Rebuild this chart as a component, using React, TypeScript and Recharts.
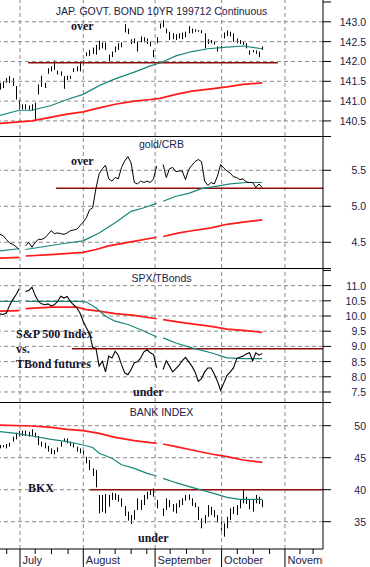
import React from 'react';
import { ComposedChart, Line, Bar, XAxis, YAxis, ReferenceLine } from 'recharts';

// trading days 0..82 (late June to mid October 1997), null = no quote that day
const jgbLow = [141.29, 141.33, 141.46, 141.46, 141.38, 141.04, 140.79, 140.79, 140.79, 140.78, 140.75, 140.5, 141.17, 141.36, 141.33, 141.69, 141.75, 141.79, 141.67, 141.64, 141.31, 141.53, 141.56, 141.73, 141.75, 141.75, 141.89, 142.13, 142.14, 142.19, 142.17, 142.29, 142.33, 142.29, 141.96, 142.11, 142.23, 142.29, 142.36, 142.73, 142.69, 142.44, 142.46, 142.25, 142.48, 142.48, 142.44, 142.38, 142.11, 142.46, 142.83, 142.86, 142.71, 142.54, 142.56, 142.54, 142.58, 142.56, 142.61, 142.71, 142.71, 142.75, 142.75, 142.71, 142.33, 142.44, 142.46, 142.42, 142.25, 142.28, 142.58, 142.64, 142.63, 142.5, 142.46, 142.44, 142.42, 142.33, 142.17, 142.23, 142.19, 142.11, 142.29];
const jgbHigh = [141.46, 141.5, 141.58, 141.63, 141.58, 141.38, 141.04, 140.92, 140.92, 140.89, 140.92, 140.96, 141.42, 141.64, 141.46, 141.83, 141.88, 142.03, 141.77, 141.75, 141.63, 141.64, 141.64, 141.83, 141.88, 142.0, 142.03, 142.23, 142.29, 142.35, 142.42, 142.52, 142.48, 142.48, 142.17, 142.25, 142.38, 142.46, 142.48, 142.94, 142.83, 142.56, 142.58, 142.5, 142.63, 142.61, 142.58, 142.5, 142.29, 142.61, 142.96, 143.04, 142.83, 142.75, 142.71, 142.69, 142.71, 142.73, 142.75, 142.89, 142.83, 142.81, 142.79, 142.79, 142.71, 142.56, 142.54, 142.5, 142.38, 142.39, 142.73, 142.78, 142.75, 142.71, 142.58, 142.54, 142.5, 142.46, 142.28, 142.29, 142.28, 142.25, 142.38];
const goldCrb = [4.61, 4.59, 4.54, 4.49, 4.47, 4.44, 4.4, null, 4.45, 4.5, 4.43, 4.5, 4.54, 4.54, 4.56, 4.61, 4.66, 4.62, 4.63, 4.62, 4.61, 4.63, 4.66, 4.67, 4.68, 4.73, 4.78, 4.84, 4.95, 4.98, 5.25, 5.45, 5.52, 5.57, 5.38, 5.35, 5.4, 5.38, 5.54, 5.63, 5.69, 5.6, 5.33, 5.31, 5.35, 5.33, 5.35, 5.33, 5.38, 5.56, null, 5.58, 5.4, 5.52, 5.54, 5.48, 5.49, 5.49, 5.37, 5.51, 5.57, 5.62, 5.65, 5.62, 5.35, 5.29, 5.33, 5.31, 5.42, 5.58, 5.53, 5.49, 5.46, 5.41, 5.4, 5.37, 5.38, 5.34, 5.33, 5.33, 5.26, 5.31, 5.26];
const spxTBonds = [10.07, 10.05, 10.1, 10.35, 10.54, 10.7, 10.9, null, 10.81, 10.84, 10.95, 10.68, 10.48, 10.4, 10.37, 10.4, 10.33, 10.37, 10.48, 10.65, 10.59, 10.64, 10.48, 10.37, 10.27, 10.1, 9.83, 9.61, 9.41, 8.97, 8.93, 8.35, 8.51, 8.16, 8.68, 8.62, 8.84, 8.71, 8.4, 8.13, 8.07, 8.24, 8.46, 8.49, 8.62, 8.82, 8.89, 8.79, 8.73, 8.29, null, 8.24, 8.53, 8.35, 8.16, 8.27, 8.38, 8.53, 8.64, 8.49, 8.35, 8.16, 7.85, 7.94, 8.16, 8.29, 8.29, 8.09, 7.85, 7.55, 7.8, 8.05, 8.16, 8.29, 8.6, 8.64, 8.68, 8.75, 8.79, 8.53, 8.79, 8.71, 8.77];
const bkxLow = [46.46, 46.61, 46.46, 46.72, 47.5, 47.86, 48.28, 48.39, 48.39, 48.28, 48.39, 48.18, 46.98, 46.72, 46.46, 45.94, 45.57, 45.52, 45.89, 46.72, 47.5, 47.24, 46.82, 46.61, 45.94, 45.68, 45.42, 44.11, 43.07, 42.14, 40.36, 36.3, 36.56, 36.3, 37.34, 38.39, 38.39, 38.13, 37.34, 35.89, 35.16, 34.64, 35.31, 36.82, 36.82, 37.6, 38.49, 39.17, 38.91, 37.08, null, 35.89, 36.82, 37.24, 36.56, 36.3, 37.24, 37.6, 38.28, 38.39, 37.45, 37.24, 35.26, 33.96, 34.74, 35.78, 36.04, 35.68, 34.84, 33.59, 32.66, 33.96, 35.26, 36.2, 36.04, 37.08, 37.86, 37.76, 36.93, 36.56, 37.86, 37.76, 37.24];
const bkxHigh = [46.98, 46.98, 47.14, 47.34, 48.28, 48.91, 49.17, 49.22, 49.22, 49.06, 49.43, 48.91, 48.39, 47.5, 47.34, 46.82, 46.46, 46.2, 46.61, 47.5, 48.02, 48.02, 47.5, 47.24, 46.72, 46.46, 46.2, 45.16, 44.64, 43.33, 43.07, 39.17, 39.17, 39.32, 39.17, 39.53, 39.43, 39.17, 38.65, 37.45, 36.56, 36.04, 36.82, 38.65, 38.39, 39.17, 39.69, 40.05, 40.21, 38.39, null, 37.08, 38.65, 38.39, 37.76, 37.86, 38.39, 38.65, 39.17, 39.27, 38.65, 37.97, 37.34, 35.52, 36.04, 37.6, 37.34, 36.82, 36.04, 35.78, 34.74, 35.78, 37.08, 37.34, 37.6, 38.49, 40.05, 38.91, 38.49, 38.39, 39.17, 38.91, 38.39];

// moving averages, [day, value]; a null value breaks the line
const jgbAvgShort = [[0, 140.64], [6, 140.77], [10, 140.77], [16, 140.89], [21, 141.04], [26, 141.17], [31, 141.39], [36, 141.56], [42, 141.73], [47, 141.89], [50, 141.96], [52, 142.03], [55, 142.14], [60, 142.25], [65, 142.32], [71, 142.36], [76, 142.39], [82, 142.32]];
const jgbAvgLong = [[0, 140.44], [10, 140.5], [21, 140.67], [26, 140.73], [31, 140.83], [36, 140.92], [42, 141.0], [47, 141.04], [50, 141.07], [55, 141.17], [60, 141.25], [66, 141.31], [71, 141.36], [76, 141.42], [82, 141.46]];
const goldAvgShort = [[0, 4.38], [6, 4.41], [7, null], [8, 4.4], [13, 4.435], [21, 4.49], [26, 4.52], [28, 4.565], [31, 4.63], [36, 4.77], [41, 4.93], [45, 4.98], [49, 5.04], [50, null], [51, 5.07], [55, 5.14], [59, 5.18], [63, 5.245], [68, 5.28], [72, 5.31], [77, 5.33], [82, 5.33]];
const goldAvgLong = [[0, 4.28], [6, 4.29], [7, null], [8, 4.31], [16, 4.33], [26, 4.36], [30, 4.4], [34, 4.45], [40, 4.5], [49, 4.57], [50, null], [51, 4.58], [56, 4.63], [60, 4.66], [66, 4.7], [71, 4.75], [76, 4.78], [82, 4.81]];
const spxAvgShort = [[0, 10.48], [6, 10.48], [7, null], [8, 10.48], [25, 10.48], [27, 10.46], [30, 10.27], [33, 9.99], [36, 9.83], [40, 9.72], [44, 9.55], [49, 9.31], [50, null], [51, 9.28], [55, 9.11], [60, 8.95], [66, 8.79], [71, 8.62], [76, 8.6], [82, 8.6]];
const spxAvgLong = [[0, 10.16], [6, 10.18], [7, null], [8, 10.24], [16, 10.29], [24, 10.29], [27, 10.21], [31, 10.16], [36, 10.08], [42, 10.02], [49, 9.91], [50, null], [51, 9.88], [56, 9.8], [60, 9.74], [66, 9.66], [71, 9.57], [76, 9.53], [82, 9.46]];
const bkxAvgShort = [[0, 49.06], [5, 48.8], [10, 48.39], [16, 47.86], [21, 47.5], [26, 46.98], [29, 46.6], [31, 45.7], [35, 44.9], [38, 43.9], [42, 43.33], [46, 42.55], [49, 42.14], [50, null], [51, 41.77], [55, 41.09], [60, 40.36], [66, 39.53], [71, 38.8], [75, 38.49], [82, 38.49]];
const bkxAvgLong = [[0, 50.1], [10, 49.95], [16, 49.74], [21, 49.43], [26, 49.22], [31, 48.8], [36, 48.18], [42, 47.66], [47, 47.34], [49, 47.24], [50, null], [51, 47.14], [55, 46.72], [60, 46.2], [66, 45.57], [71, 45.16], [76, 44.64], [82, 44.27]];

const monthTicks = [6.25, 26.05, 48.5, 69.3, 89.1];
const monthNames = ['July', 'August', 'September', 'October', 'November'];
const weekTicks = [2.1, 11, 16.1, 21.3, 31.2, 36, 41, 45.9, 53.2, 58.3, 63.5, 74.2, 79.2, 84.3, 93.8, 97.9];

const PLOT_W = 323;
const X_DOMAIN = [0, 101];
const INK = '#1a1a48';
const TEAL = '#17867a';
const RED = '#ff1a1a';
const MAROON = '#900c0c';
const GRID = '#8a8a8a';
const SANS = "'Liberation Sans', Arial, sans-serif";
const SERIF = "'Liberation Serif', 'Times New Roman', serif";

const rows = jgbLow.map((_, i) => ({
  i,
  jgb: [jgbLow[i], jgbHigh[i]],
  gold: goldCrb[i],
  spx: spxTBonds[i],
  bkx: bkxLow[i] == null ? null : [bkxLow[i], bkxHigh[i]],
}));

// split [day, value] list at null values into separate runs
const runs = (arr: any[]) => {
  const out: any[][] = [[]];
  arr.forEach(([i, v]) => {
    if (v == null) out.push([]);
    else out[out.length - 1].push({ i, v });
  });
  return out.filter((r) => r.length > 1);
};

const HLBar = (p: any) => {
  if (p.height == null || isNaN(p.height)) return null;
  const cx = Math.round(p.x + p.width / 2) + 0.5;
  return <line x1={cx} x2={cx} y1={p.y} y2={p.y + p.height} stroke="#000" strokeWidth={1} />;
};

const makeYTick = (labels: number[], digits: number) => (props: any) => {
  const { y, payload } = props;
  const v = payload.value;
  const show = labels.some((l) => Math.abs(l - v) < 1e-6);
  return (
    <g>
      <line x1={PLOT_W} x2={PLOT_W + 8} y1={y} y2={y} stroke="#000" />
      {show && (
        <text x={366} y={y + 4} textAnchor="end" fontSize={10.5} fill={INK} fontFamily={SANS}>
          {v.toFixed(digits)}
        </text>
      )}
    </g>
  );
};

const BOTTOM_PLOT_H = 147;

const renderXTick = (props: any) => {
  const { x, payload } = props;
  const m = monthTicks.indexOf(payload.value);
  if (m < 0) {
    return <line x1={x} x2={x} y1={BOTTOM_PLOT_H} y2={BOTTOM_PLOT_H + 5} stroke="#000" />;
  }
  return (
    <g>
      <defs>
        <clipPath id={`xlab${m}`}>
          <rect x={0} y={BOTTOM_PLOT_H} width={PLOT_W} height={20} />
        </clipPath>
      </defs>
      <line x1={x} x2={x} y1={BOTTOM_PLOT_H} y2={BOTTOM_PLOT_H + 18} stroke="#000" />
      <text x={x + 2.5} y={BOTTOM_PLOT_H + 15} fontSize={11} fill={INK} fontFamily={SANS} clipPath={`url(#xlab${m})`}>
        {monthNames[m]}
      </text>
    </g>
  );
};

const avgLines = (key: string, data: any[], color: string, width: number) =>
  runs(data).map((run, k) => (
    <Line key={key + k} data={run} dataKey="v" stroke={color} strokeWidth={width} dot={false} activeDot={false} isAnimationActive={false} />
  ));

// dashed guide lines at the labelled values and month starts
const gridLines = (labels: number[]) => [
  ...labels.map((v) => (
    <ReferenceLine key={'h' + v} y={v} stroke={GRID} strokeWidth={1} strokeDasharray="4 3" ifOverflow="extendDomain" />
  )),
  ...monthTicks.map((m) => (
    <ReferenceLine key={'v' + m} x={m} stroke={GRID} strokeWidth={1} strokeDasharray="4 3" ifOverflow="extendDomain" />
  )),
];

function Panel(props: any) {
  const { height, domain, ticks, labels, digits, last, children } = props;
  return (
    <ComposedChart width={370} height={height} data={rows} margin={{ top: 0, right: 0, bottom: 0, left: 0 }}>
      <XAxis
        dataKey="i"
        type="number"
        domain={X_DOMAIN}
        allowDataOverflow
        ticks={last ? [...monthTicks, ...weekTicks].sort((a, b) => a - b) : []}
        interval={0}
        height={last ? 18 : 0}
        axisLine={{ stroke: '#000' }}
        tickLine={false}
        tick={last ? renderXTick : false}
      />
      <YAxis
        orientation="right"
        type="number"
        width={47}
        domain={domain}
        allowDataOverflow
        ticks={ticks}
        interval={0}
        axisLine={{ stroke: '#000' }}
        tickLine={false}
        tick={makeYTick(labels, digits)}
      />
      {gridLines(labels)}
      {children}
    </ComposedChart>
  );
}

const jgbDomain = [140.12, 143.55];
const goldDomain = [4.143, 5.976];
const spxDomain = [7.17, 11.58];
const bkxDomain = [30.73, 53.7];

export default function App() {
  return (
    <div style={{ position: 'absolute', left: 0, top: 0, width: 370, height: 567, background: '#fff', overflow: 'hidden' }}>
      <Panel height={136} domain={jgbDomain} ticks={[140.5, 141, 141.5, 142, 142.5, 143, 143.5]} labels={[140.5, 141, 141.5, 142, 142.5, 143]} digits={1}>
        <ReferenceLine segment={[{ x: 8.8, y: 141.97 }, { x: 86.9, y: 141.97 }]} stroke={MAROON} strokeWidth={1.5} />
        {avgLines('jl', jgbAvgLong, RED, 1.7)}
        {avgLines('js', jgbAvgShort, TEAL, 1.2)}
        <Bar dataKey="jgb" barSize={1} shape={HLBar} isAnimationActive={false} />
      </Panel>
      <Panel height={132} domain={goldDomain} ticks={[4.5, 5, 5.5]} labels={[4.5, 5, 5.5]} digits={1}>
        <ReferenceLine segment={[{ x: 17.5, y: 5.25 }, { x: 101, y: 5.25 }]} stroke={MAROON} strokeWidth={1.5} />
        {avgLines('gl', goldAvgLong, RED, 1.7)}
        {avgLines('gs', goldAvgShort, TEAL, 1.2)}
        <Line dataKey="gold" stroke="#000" strokeWidth={1} dot={false} activeDot={false} isAnimationActive={false} />
      </Panel>
      <Panel height={134} domain={spxDomain} ticks={[7.5, 8, 8.5, 9, 9.5, 10, 10.5, 11, 11.5]} labels={[7.5, 8, 8.5, 9, 9.5, 10, 10.5, 11]} digits={1}>
        <ReferenceLine segment={[{ x: 22.5, y: 8.92 }, { x: 101, y: 8.92 }]} stroke={MAROON} strokeWidth={1.5} />
        {avgLines('sl', spxAvgLong, RED, 1.7)}
        {avgLines('ss', spxAvgShort, TEAL, 1.2)}
        <Line dataKey="spx" stroke="#000" strokeWidth={1.1} dot={false} activeDot={false} isAnimationActive={false} />
      </Panel>
      <Panel height={165} last domain={bkxDomain} ticks={[35, 40, 45, 50]} labels={[35, 40, 45, 50]} digits={0}>
        <ReferenceLine segment={[{ x: 28.1, y: 40 }, { x: 101, y: 40 }]} stroke={MAROON} strokeWidth={1.5} />
        {avgLines('bl', bkxAvgLong, RED, 1.7)}
        {avgLines('bs', bkxAvgShort, TEAL, 1.2)}
        <Bar dataKey="bkx" barSize={1} shape={HLBar} isAnimationActive={false} />
      </Panel>

      <svg width={370} height={567} style={{ position: 'absolute', left: 0, top: 0, pointerEvents: 'none' }}>
        <g stroke="#000" strokeWidth={1}>
          <line x1={0} x2={PLOT_W + 8} y1={136.5} y2={136.5} />
          <line x1={0} x2={PLOT_W + 8} y1={268.5} y2={268.5} />
          <line x1={0} x2={PLOT_W + 8} y1={402.5} y2={402.5} />
        </g>
        <g fontFamily={SANS} fontSize={10.5} fill={INK} textAnchor="middle">
          <text x={161.5} y={15}>JAP. GOVT. BOND 10YR 199712 Continuous</text>
          <text x={161.5} y={148}>gold/CRB</text>
          <text x={161.5} y={282}>SPX/TBonds</text>
          <text x={161.5} y={415.5}>BANK INDEX</text>
        </g>
        <g fontFamily={SERIF} fontSize={12} fontWeight="bold" fill="#14142e">
          <text x={71} y={30}>over</text>
          <text x={71} y={165}>over</text>
          <text x={16} y={338}>S&amp;P 500 Index</text>
          <text x={16} y={353}>vs.</text>
          <text x={16} y={368}>TBond futures</text>
          <text x={133} y={396}>under</text>
          <text x={28} y={492}>BKX</text>
          <text x={138} y={541.5}>under</text>
        </g>
      </svg>
    </div>
  );
}
